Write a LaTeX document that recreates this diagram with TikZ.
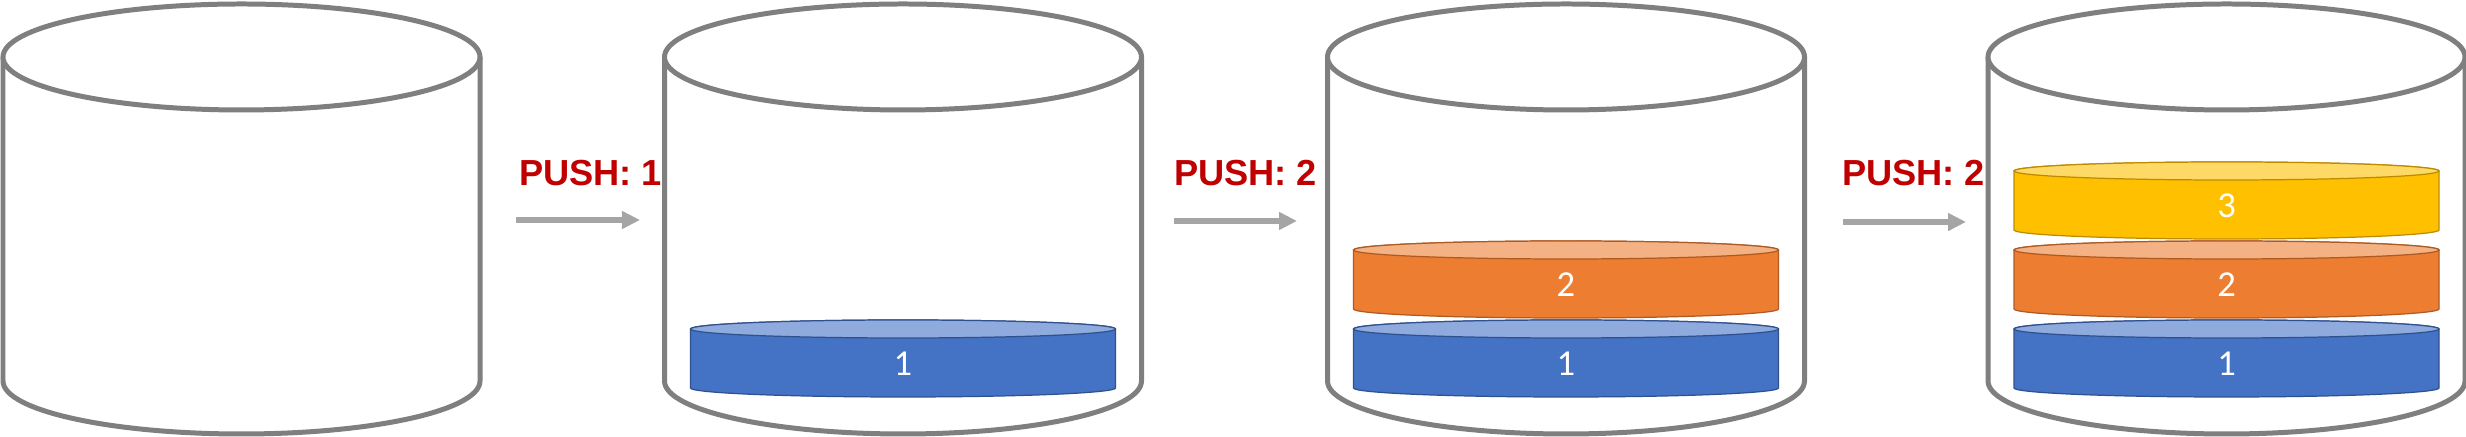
\documentclass[tikz,border=0pt]{standalone}
\usepackage{fontspec}
\setmainfont{Carlito}
\newfontfamily\pushfont{Liberation Sans}
\usetikzlibrary{arrows.meta}
\definecolor{cylgray}{HTML}{7F7F7F}
\definecolor{arrgray}{HTML}{A5A5A5}
\definecolor{pushred}{HTML}{C00000}
\definecolor{bluemain}{HTML}{4472C4}
\definecolor{bluetop}{HTML}{8FAADC}
\definecolor{bluestroke}{HTML}{2F528F}
\definecolor{orgmain}{HTML}{ED7D31}
\definecolor{orgtop}{HTML}{F4B183}
\definecolor{orgstroke}{HTML}{AE5A21}
\definecolor{yelmain}{HTML}{FFC000}
\definecolor{yeltop}{HTML}{FFD966}
\definecolor{yelstroke}{HTML}{BC8C00}
\tikzset{
  cylline/.style={draw=cylgray, line width=1.42pt, fill=white},
  disklinestyle/.style={line width=0.35pt},
  digit/.style={text=white, anchor=base, inner sep=0pt, font=\fontsize{10.4}{12}\selectfont},
  pushlabel/.style={text=pushred, anchor=base west, inner sep=0pt, font=\pushfont\bfseries\fontsize{10.3}{12}\selectfont},
  pusharrow/.style={draw=arrgray, line width=1.7pt, -{Triangle[length=0.18cm, width=0.17cm]}}
}
\newcommand\mycyl[1]{%
  \draw[cylline] (#1-238.5,380) -- (#1-238.5,56) arc[start angle=180, end angle=360, x radius=238.5, y radius=53] -- (#1+238.5,380);
  \draw[cylline] (#1,380) ellipse[x radius=238.5, y radius=53];
}
\newcommand\mydisk[7]{%
  \path[disklinestyle, draw=#5, fill=#3] (#1-212.5,#2) -- (#1-212.5,#2-59) arc[start angle=180, end angle=360, x radius=212.5, y radius=9] -- (#1+212.5,#2) arc[start angle=0, end angle=180, x radius=212.5, y radius=9] -- cycle;
  \path[disklinestyle, draw=#5, fill=#4] (#1,#2) ellipse[x radius=212.5, y radius=9];
  \node[digit] (#7) at (#1,#2-47) {#6};
}
\begin{document}
\begin{tikzpicture}[x=0.01cm, y=0.01cm]
\useasboundingbox (0,0) rectangle (2466,437);
% labels and arrows
\node[pushlabel] (p1) at (518.5,251) {PUSH: 1};
\node[pushlabel] (p2) at (1173.5,251) {PUSH: 2};
\node[pushlabel] (p3) at (1841.5,251) {PUSH: 2};
\coordinate (a1s) at (516,217); \coordinate (a1e) at (640,217);
\coordinate (a2s) at (1174,216); \coordinate (a2e) at (1297,216);
\coordinate (a3s) at (1843,215); \coordinate (a3e) at (1966,215);
\draw[pusharrow] (a1s) -- (a1e);
\draw[pusharrow] (a2s) -- (a2e);
\draw[pusharrow] (a3s) -- (a3e);
% cylinders
\mycyl{241.5}
\mycyl{903}
\mycyl{1566}
\mycyl{2226.5}
% disks
\mydisk{903}{108}{bluemain}{bluetop}{bluestroke}{1}{d21}
\mydisk{1566}{108}{bluemain}{bluetop}{bluestroke}{1}{d31}
\mydisk{1566}{187}{orgmain}{orgtop}{orgstroke}{2}{d32}
\mydisk{2226.5}{108}{bluemain}{bluetop}{bluestroke}{1}{d41}
\mydisk{2226.5}{187}{orgmain}{orgtop}{orgstroke}{2}{d42}
\mydisk{2226.5}{266}{yelmain}{yeltop}{yelstroke}{3}{d43}
\end{tikzpicture}
\end{document}
